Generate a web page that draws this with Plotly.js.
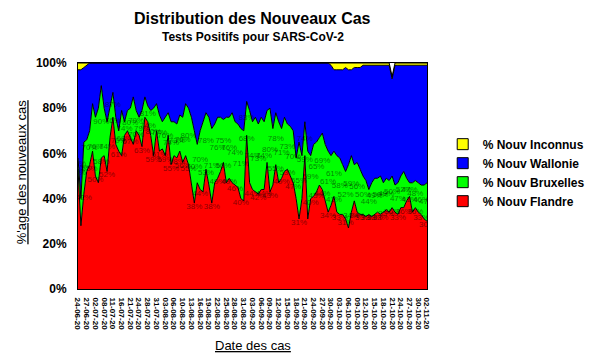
<!DOCTYPE html>
<html><head><meta charset="utf-8">
<script src="https://cdn.plot.ly/plotly-3.0.1.min.js"></script>
<style>html,body{margin:0;padding:0;background:#fff}</style>
</head><body><div id="chart" style="width:602px;height:363px"></div>
<script>
const dates = ["24-06-20","25-06-20","26-06-20","27-06-20","29-06-20","30-06-20","02-07-20","03-07-20","06-07-20","08-07-20",
"09-07-20","10-07-20","11-07-20","13-07-20","14-07-20","16-07-20","17-07-20","20-07-20","21-07-20","22-07-20",
"23-07-20","24-07-20","25-07-20","27-07-20","28-07-20","29-07-20","30-07-20","31-07-20","01-08-20","02-08-20",
"03-08-20","04-08-20","05-08-20","06-08-20","07-08-20","09-08-20","10-08-20","11-08-20","12-08-20","13-08-20",
"14-08-20","15-08-20","16-08-20","17-08-20","18-08-20","19-08-20","20-08-20","21-08-20","22-08-20","23-08-20",
"24-08-20","25-08-20","26-08-20","27-08-20","28-08-20","29-08-20","30-08-20","31-08-20","01-09-20","02-09-20",
"03-09-20","04-09-20","05-09-20","06-09-20","07-09-20","08-09-20","09-09-20","10-09-20","11-09-20","12-09-20",
"13-09-20","14-09-20","15-09-20","16-09-20","17-09-20","18-09-20","19-09-20","20-09-20","21-09-20","22-09-20",
"23-09-20","24-09-20","25-09-20","26-09-20","27-09-20","28-09-20","29-09-20","30-09-20","01-10-20","02-10-20",
"03-10-20","04-10-20","05-10-20","06-10-20","07-10-20","08-10-20","09-10-20","10-10-20","11-10-20","12-10-20",
"13-10-20","14-10-20","15-10-20","16-10-20","17-10-20","18-10-20","19-10-20","20-10-20","21-10-20","22-10-20",
"23-10-20","24-10-20","25-10-20","26-10-20","27-10-20","28-10-20","29-10-20","30-10-20","31-10-20","01-11-20","02-11-20"];

const tickLabels = ["24-06-20","27-06-20","02-07-20","08-07-20","11-07-20","16-07-20","21-07-20","24-07-20","28-07-20","31-07-20",
"03-08-20","06-08-20","10-08-20","13-08-20","16-08-20","19-08-20","22-08-20","25-08-20","28-08-20","31-08-20",
"03-09-20","06-09-20","09-09-20","12-09-20","15-09-20","18-09-20","21-09-20","24-09-20","27-09-20","30-09-20",
"03-10-20","06-10-20","09-10-20","12-10-20","15-10-20","18-10-20","21-10-20","24-10-20","27-10-20","30-10-20","02-11-20"];

const yTickValues = [0,20,40,60,80,100];
const yTickLabels = ["0%","20%","40%","60%","80%","100%"];

const flandre = [53,28,42,52,55,61,50,47,58,59, 52,67,76,64,61,59,68,70,67,64, 70,68,63,76,74,68,59,70,61,62,
59,68,55,59,58,61,56,59,55,47, 38,47,44,43,53,46,38,47,49,52, 56,47,49,47,46,45,40,39,68,47,
44,43,42,44,44,56,43,46,55,47, 49,52,53,50,47,40,31,40,59,31, 40,41,43,46,44,39,34,37,41,34,
33,33,31,27,34,39,34,33,33,32, 33,32,33,34,33,34,35,34,36,34, 33,36,36,39,41,34,36,34,33,31,30];

const bruxelles = [5,12,23,14,15,21,26,33,32,21, 22,13,11,12,9,20,6,9,13,21, 9,8,16,9,7,11,21,12,16,12,
17,10,19,15,15,16,20,23,25,29, 32,17,26,31,25,30,33,26,27,24, 19,29,27,31,28,28,31,31,15,32,
30,33,31,32,30,23,37,25,23,27, 22,24,20,22,23,18,34,19,15,30, 19,23,22,21,25,25,27,22,20,25,
25,22,21,28,25,16,22,20,17,16, 11,15,16,15,17,13,14,14,14,12, 14,14,16,10,6,13,12,13,13,15,17];

const wallonie = [39,57,33,33,30,18,24,20,10,20, 26,20,13,24,30,21,26,21,20,15, 21,24,21,15,19,21,20,18,23,26,
24,22,26,26,27,23,24,18,20,24, 30,36,30,26,22,24,29,27,24,24, 25,24,24,22,26,27,29,30,17,21,
26,24,27,24,26,21,20,29,22,26, 29,24,27,28,30,42,35,41,26,39, 41,36,35,33,31,36,39,40,36,38,
39,42,46,42,38,43,42,45,49,51, 55,52,50,50,49,52,50,51,43,53, 52,49,47,50,52,52,51,52,53,53,52];

const inconnus = [3,3,2,1,0,0,0,0,0,0, 0,0,0,0,0,0,0,0,0,0, 0,0,0,0,0,0,0,0,0,0,
0,0,0,0,0,0,0,0,0,0, 0,0,0,0,0,0,0,0,0,0, 0,0,0,0,0,0,0,0,0,0,
0,0,0,0,0,0,0,0,0,0, 0,0,0,0,0,0,0,0,0,0, 0,0,0,0,0,0,0,1,3,3,
3,3,2,3,3,2,2,2,1,1, 1,1,1,1,1,1,1,1,1,1, 1,1,1,1,1,1,1,1,1,1,1];

const FONT = "Liberation Sans, Arial, sans-serif";
const labelColor = "rgba(0,0,0,0.5)";

function area(name, y, color) {
  return {type:"scatter", mode:"lines", x:dates, y:y, name:name, stackgroup:"s",
    fillcolor:color, line:{color:"#000", width:1}, showlegend:false, hoverinfo:"skip"};
}
function legendItem(name, color) {
  return {type:"scatter", mode:"markers", x:[dates[0]], y:[null], name:name,
    marker:{symbol:"square", size:11, color:color, line:{color:"#000", width:1}}, hoverinfo:"skip"};
}

// data labels on every second day
const lblIdx = dates.map((d,i)=>i).filter(i=>i%2===0);
const traces = [
  area("% Nouv Flandre", flandre, "#FF0000"),
  area("% Nouv Bruxelles", bruxelles, "#00FF00"),
  area("% Nouv Wallonie", wallonie, "#0000FF"),
  area("% Nouv Inconnus", inconnus, "#FFFF00"),
  {type:"scatter", mode:"text", x:lblIdx.map(i=>dates[i]), y:lblIdx.map(i=>flandre[i]),
   text:lblIdx.map(i=>flandre[i]+"%"),
   textposition:"bottom center", textfont:{family:FONT, size:8, color:labelColor}, showlegend:false, hoverinfo:"skip"},
  {type:"scatter", mode:"text", x:lblIdx.map(i=>dates[i]), y:lblIdx.map(i=>flandre[i]+bruxelles[i]/2),
   text:lblIdx.map(i=>(flandre[i]+bruxelles[i])+"%"),
   textposition:"middle center", textfont:{family:FONT, size:8, color:labelColor}, showlegend:false, hoverinfo:"skip"},
  legendItem("% Nouv Inconnus", "#FFFF00"),
  legendItem("% Nouv Wallonie", "#0000FF"),
  legendItem("% Nouv Bruxelles", "#00FF00"),
  legendItem("% Nouv Flandre", "#FF0000")
];

const layout = {
  width:602, height:363,
  margin:{l:78, r:167, t:63, b:74},
  paper_bgcolor:"#fff", plot_bgcolor:"#fff",
  font:{family:FONT, color:"#000"},
  showlegend:true,
  legend:{x:1.045, y:0.705, xanchor:"left", yanchor:"top", traceorder:"normal",
    font:{family:FONT, size:12, weight:"bold", color:"#000"}, bgcolor:"rgba(0,0,0,0)", itemwidth:30},
  xaxis:{type:"category", categoryorder:"array", categoryarray:dates, range:[0, dates.length-1],
    tickvals:tickLabels, ticktext:tickLabels, tickangle:90, tickfont:{family:FONT, size:8, weight:"bold"},
    showgrid:false, zeroline:false, showline:true, linecolor:"#000", linewidth:1, mirror:true, ticks:"", ticklabelstandoff:6},
  yaxis:{range:[0,100], tickmode:"array", tickvals:yTickValues, ticktext:yTickLabels, tickfont:{family:FONT, size:12, weight:"bold"},
    showgrid:false, zeroline:false, showline:true, linecolor:"#000", linewidth:1, mirror:true, ticks:"", ticklabelstandoff:8},
  annotations:[
    {text:"<b>Distribution des Nouveaux Cas</b>", xref:"paper", yref:"paper", x:0.5, y:(289-19)/226, xanchor:"center", yanchor:"middle", showarrow:false, font:{family:FONT, size:16}},
    {text:"<b>Tests Positifs pour SARS-CoV-2</b>", xref:"paper", yref:"paper", x:0.5, y:(289-37)/226, xanchor:"center", yanchor:"middle", showarrow:false, font:{family:FONT, size:12}},
    {text:"<u>%'age des nouveaux cas</u>", xref:"paper", yref:"paper", x:(20-78)/357, y:(289-172)/226, xanchor:"center", yanchor:"middle", textangle:-90, showarrow:false, font:{family:FONT, size:13}},
    {text:"<u>Date des cas</u>", xref:"paper", yref:"paper", x:0.5, y:(289-345)/226, xanchor:"center", yanchor:"middle", showarrow:false, font:{family:FONT, size:13}}
  ]
};

Plotly.newPlot("chart", traces, layout, {staticPlot:true, displayModeBar:false});
</script>
</body></html>
